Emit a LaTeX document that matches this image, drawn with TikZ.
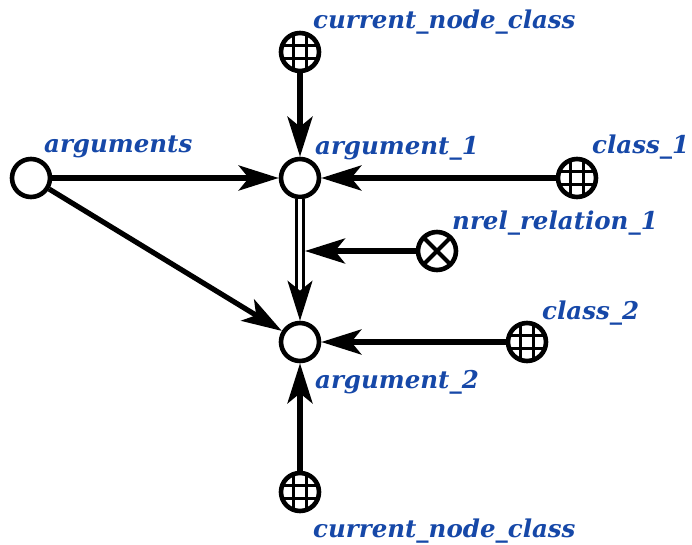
\documentclass[tikz,border=0pt]{standalone}
\usepackage{fontspec}
\newfontfamily\lblfont{DejaVu Serif}
\usetikzlibrary{arrows.meta}
\definecolor{lblblue}{RGB}{22,72,168}

\tikzset{
  scnode/.style = {circle, draw, line width=4.6pt, minimum size=38pt, inner sep=0pt},
  classnode/.style = {scnode, path picture={
      \foreach \d in {-6.5,6.5} {
        \draw[line width=2.4pt] ([xshift=\d pt]path picture bounding box.north) -- ([xshift=\d pt]path picture bounding box.south);
        \draw[line width=2.4pt] ([yshift=\d pt]path picture bounding box.west) -- ([yshift=\d pt]path picture bounding box.east);
      }}},
  relnode/.style = {scnode, path picture={
      \draw[line width=4pt] (path picture bounding box.north west) -- (path picture bounding box.south east)
        (path picture bounding box.south west) -- (path picture bounding box.north east);}},
  lbl/.style = {anchor=base west, inner sep=0pt, text=lblblue,
    font=\lblfont\bfseries\itshape\fontsize{24.5}{24.5}\selectfont},
  arc/.style = {-{Stealth[length=40pt, width=25pt, inset=10pt]}, line width=5.2pt},
  darc/.style = {double, double distance=4.5pt, line width=2.8pt,
    -{Stealth[length=40pt, width=25pt, inset=10pt]}}
}

\begin{document}
\begin{tikzpicture}[x=1pt, y=-1pt]
  \useasboundingbox (0,0) rectangle (692,545);

  % nodes
  \node[scnode] (args) at (31,178) {};
  \node[scnode] (arg1) at (300,178) {};
  \node[scnode] (arg2) at (300,342) {};
  \node[classnode] (cnc1) at (300,52) {};
  \node[classnode] (cnc2) at (300,492) {};
  \node[classnode] (cls1) at (577,178) {};
  \node[classnode] (cls2) at (527,342) {};
  \node[relnode] (nrel) at (437,251) {};
  \coordinate (dmid) at (305,251);

  % labels
  \node[lbl] (argsl) at (44,153) {arguments};
  \node[lbl] (arg1l) at (315,155) {argument\_1};
  \node[lbl] (arg2l) at (315,388) {argument\_2};
  \node[lbl] (cnc1l) at (313,29) {current\_node\_class};
  \node[lbl] (cnc2l) at (313,537) {current\_node\_class};
  \node[lbl] (cls1l) at (592,154) {class\_1};
  \node[lbl] (cls2l) at (542,319) {class\_2};
  \node[lbl] (nrell) at (452,229) {nrel\_relation\_1};

  % arcs
  \draw[arc] (args) -- (arg1);
  \draw[arc] (args) -- (arg2);
  \draw[arc] (cnc1) -- (arg1);
  \draw[arc] (cls1) -- (arg1);
  \draw[arc] (cls2) -- (arg2);
  \draw[arc] (cnc2) -- (arg2);
  \draw[darc] (arg1) -- (arg2);
  \draw[arc] (nrel) -- (dmid);
\end{tikzpicture}
\end{document}
